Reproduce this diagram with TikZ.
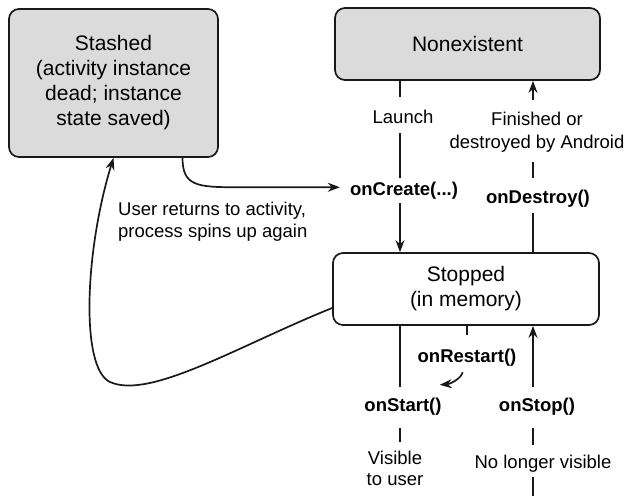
\documentclass[tikz,border=0pt]{standalone}
\usepackage{fontspec}
\setmainfont{Liberation Sans}
\usetikzlibrary{arrows.meta}

\definecolor{boxgray}{gray}{0.86}
\definecolor{ink}{gray}{0.1}
\newcommand{\boxfont}{\fontsize{21}{25}\selectfont}
\newcommand{\labelfont}{\fontsize{18.5}{23}\selectfont}

\begin{document}
\begin{tikzpicture}[x=1pt,y=-1pt]
\useasboundingbox (0,0) rectangle (630,496);
\coordinate (leftcol) at (400,0);
\coordinate (rightcol) at (533,0);
\coordinate (tail) at (533,496);
\begin{scope}[every node/.style={draw=ink,line width=1.7pt,rounded corners=10pt,align=center,font=\boxfont}]
    \node [fill=boxgray,minimum width=209pt,minimum height=148pt] (stashed) at (113.5,83) {Stashed\\(activity instance\\dead; instance\\state saved)};
    \node [fill=boxgray,minimum width=265pt,minimum height=72pt] (nonexistent) at (467.5,44) {Nonexistent};
    \node [fill=white,minimum width=266pt,minimum height=72pt] (stopped) at (466,289) {Stopped\\(in memory)};
\end{scope}
\begin{scope}[every node/.style={font=\labelfont,inner sep=3pt,text height=13.5pt,text depth=4pt}]
    \node (launch) at (403,118.25) {Launch};
    \node [font=\labelfont\bfseries] (create) at (404,190.25) {onCreate(...)};
    \node [font=\labelfont\bfseries] (destroy) at (538,198.25) {onDestroy()};
    \node [font=\labelfont\bfseries] (restart) at (467,357.25) {onRestart()};
    \node [font=\labelfont\bfseries] (start) at (403,406.75) {onStart()};
    \node [font=\labelfont\bfseries] (stop) at (537,406.75) {onStop()};
    \node (nolonger) at (543,463.25) {No longer visible};
\end{scope}
\begin{scope}[every node/.style={font=\labelfont,inner sep=3pt}]
    \node [align=center] (finished) at (537,131.75) {Finished or\\destroyed by Android};
    \node [align=center,font=\fontsize{18.5}{21}\selectfont] (visible) at (395,468.8) {Visible\\to user};
    \node [align=left,inner sep=0pt,anchor=north west,font=\fontsize{18.5}{22}\selectfont] (returns) at (118,202) {User returns to activity,\\process spins up again};
\end{scope}
\begin{scope}[>={Stealth[length=12pt,width=9pt]},
              line_edge/.style={draw=ink,line width=1.7pt}]
    \path (leftcol |- nonexistent.south) edge [line_edge,shorten >=9.5pt] (leftcol |- launch.north);
    \path (leftcol |- launch.south) edge [line_edge,shorten <=3pt] (leftcol |- create.north);
    \path [->] (leftcol |- create.south) edge [line_edge,shorten <=1pt] (leftcol |- stopped.north);
    \path [->] (rightcol |- finished.north) edge [line_edge,shorten <=8.6pt] (rightcol |- nonexistent.south);
    \path (rightcol |- finished.south) edge [line_edge,shorten <=7pt,shorten >=8.5pt] (rightcol |- destroy.north);
    \path (rightcol |- destroy.south) edge [line_edge,shorten <=3pt] (rightcol |- stopped.north);
    \path (leftcol |- stopped.south) edge [line_edge,shorten >=8pt] (leftcol |- start.north);
    \path (leftcol |- start.south) edge [line_edge,shorten <=9.5pt,shorten >=6.6pt] (leftcol |- visible.north);
    \path [->] (rightcol |- stop.north) edge [line_edge,shorten <=8pt] (rightcol |- stopped.south);
    \path (rightcol |- stop.south) edge [line_edge,shorten <=9.5pt,shorten >=6.5pt] (rightcol |- nolonger.north);
    \path (rightcol |- nolonger.south) edge [line_edge,shorten <=2pt] (tail);
    \path (restart |- stopped.south) edge [line_edge,shorten >=10.5pt] (restart.north);
    \draw [line_edge,->,shorten <=3pt] ([xshift=-4pt]restart.south) .. controls +(-1,8) and +(12,-1) .. ([xshift=-5pt,yshift=10pt]start.north east);
    \draw [line_edge,->,shorten >=7pt] ([xshift=69pt]stashed.south) .. controls +(0,28) and +(-40,0) .. ([xshift=-110pt,yshift=3pt]create.west) -- ([yshift=3pt]create.west);
    \draw [line_edge,->] ([yshift=-19pt]stopped.west) .. controls (240,345) and (150,400) .. (110,382) .. controls (80,368) and (85,250) .. (stashed.south);
\end{scope}
\end{tikzpicture}
\end{document}
